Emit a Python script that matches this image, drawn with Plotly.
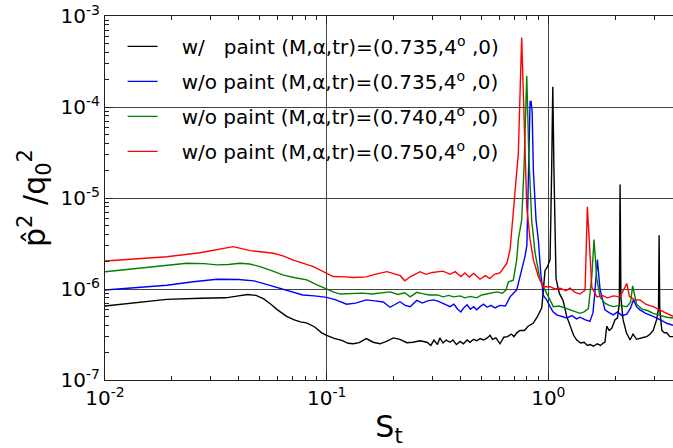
import math
import plotly.graph_objects as go

# ---------------- data ----------------
x_black = [0.010, 0.013, 0.019, 0.027, 0.035, 0.040, 0.044, 0.048, 0.052, 0.056, 0.060, 0.066,
           0.071, 0.076, 0.081, 0.088, 0.095, 0.100, 0.108, 0.117, 0.125, 0.132, 0.140, 0.151,
           0.162, 0.174, 0.186, 0.200, 0.214, 0.230, 0.245, 0.264, 0.283, 0.295, 0.305, 0.316,
           0.324, 0.335, 0.346, 0.360, 0.371, 0.385, 0.400, 0.414, 0.430, 0.443, 0.460, 0.475,
           0.492, 0.510, 0.530, 0.546, 0.560, 0.580, 0.605, 0.630, 0.655, 0.680, 0.700, 0.720,
           0.745, 0.780, 0.810, 0.853, 0.890, 0.934, 0.966, 0.990, 1.018, 1.035, 1.047, 1.060,
           1.083, 1.120, 1.165, 1.210, 1.253, 1.300, 1.343, 1.400, 1.450, 1.500, 1.542, 1.600,
           1.660, 1.720, 1.766, 1.800, 1.834, 1.880, 1.932, 2.000, 2.050, 2.090, 2.107, 2.125,
           2.173, 2.250, 2.337, 2.410, 2.500, 2.600, 2.700, 2.780, 2.880, 2.970, 3.080, 3.140,
           3.160, 3.180, 3.250, 3.340, 3.420, 3.530, 3.650]
y_black = [6.5e-7, 7.0e-7, 7.7e-7, 7.9e-7, 8.0e-7, 8.4e-7, 8.7e-7, 8.5e-7, 7.8e-7, 6.8e-7, 5.9e-7, 5.0e-7,
           4.6e-7, 4.35e-7, 4.25e-7, 3.85e-7, 3.3e-7, 3.1e-7, 2.87e-7, 2.73e-7, 2.53e-7, 2.5e-7, 2.57e-7, 2.85e-7,
           2.6e-7, 2.5e-7, 2.65e-7, 2.9e-7, 2.8e-7, 2.57e-7, 2.6e-7, 2.7e-7, 2.6e-7, 2.4e-7, 2.75e-7, 2.45e-7,
           2.9e-7, 2.55e-7, 2.75e-7, 2.6e-7, 2.75e-7, 2.45e-7, 2.65e-7, 2.5e-7, 2.75e-7, 2.6e-7, 2.8e-7, 2.7e-7,
           2.85e-7, 2.75e-7, 2.9e-7, 3.1e-7, 2.8e-7, 2.9e-7, 2.5e-7, 2.95e-7, 3.0e-7, 3.2e-7, 3.0e-7, 3.3e-7,
           3.5e-7, 3.5e-7, 3.9e-7, 4.2e-7, 4.9e-7, 6.2e-7, 1.6e-6, 1.75e-6, 2.1e-6, 2.0e-5, 1.67e-4, 2.0e-5,
           1.3e-6, 9.0e-7, 7.5e-7, 5.0e-7, 3.85e-7, 3.1e-7, 2.75e-7, 2.55e-7, 2.6e-7, 2.4e-7, 2.45e-7, 2.35e-7,
           2.5e-7, 2.4e-7, 2.55e-7, 2.6e-7, 3.9e-7, 3.5e-7, 3.7e-7, 4.6e-7, 4.8e-7, 7.0e-7, 1.41e-5, 8.0e-7,
           4.6e-7, 3.3e-7, 2.75e-7, 3.2e-7, 2.8e-7, 2.9e-7, 2.95e-7, 3.0e-7, 3.2e-7, 3.5e-7, 4.6e-7, 6.0e-7,
           3.9e-6, 6.0e-7, 3.5e-7, 3.3e-7, 3.3e-7, 3.0e-7, 3.0e-7]

x_blue = [0.010, 0.013, 0.019, 0.025, 0.032, 0.040, 0.047, 0.053, 0.060, 0.068, 0.078, 0.088,
          0.100, 0.110, 0.123, 0.135, 0.151, 0.165, 0.180, 0.193, 0.205, 0.214, 0.226, 0.238,
          0.255, 0.270, 0.285, 0.303, 0.320, 0.340, 0.360, 0.375, 0.390, 0.403, 0.415, 0.430,
          0.445, 0.460, 0.475, 0.492, 0.510, 0.530, 0.550, 0.575, 0.605, 0.640, 0.672, 0.720,
          0.758, 0.785, 0.800, 0.812, 0.827, 0.835, 0.845, 0.856, 0.880, 0.901, 0.924, 0.949,
          0.983, 1.018, 1.050, 1.090, 1.150, 1.210, 1.280, 1.340, 1.390, 1.460, 1.540, 1.590,
          1.620, 1.664, 1.710, 1.800, 1.880, 1.965, 2.050, 2.150, 2.260, 2.350, 2.420, 2.500,
          2.590, 2.750, 2.970, 3.150, 3.300, 3.420, 3.650]
y_blue = [9.75e-7, 1.03e-6, 1.1e-6, 1.2e-6, 1.28e-6, 1.27e-6, 1.23e-6, 1.13e-6, 1.04e-6, 9.4e-7, 8.6e-7, 8.4e-7,
          8.1e-7, 7.6e-7, 6.8e-7, 7.0e-7, 7.6e-7, 7.4e-7, 7.2e-7, 6.3e-7, 6.8e-7, 7.25e-7, 6.6e-7, 6.4e-7,
          7.5e-7, 7.0e-7, 7.4e-7, 7.6e-7, 7.3e-7, 6.8e-7, 6.4e-7, 6.8e-7, 6.0e-7, 5.6e-7, 6.2e-7, 6.7e-7,
          6.0e-7, 6.4e-7, 5.9e-7, 6.4e-7, 6.8e-7, 6.3e-7, 6.6e-7, 6.2e-7, 6.6e-7, 6.5e-7, 8.2e-7, 9.8e-7,
          1.6e-6, 2.3e-6, 3.0e-6, 1.5e-5, 1.15e-4, 1.15e-4, 9.0e-5, 2.0e-5, 5.7e-6, 3.5e-6, 1.5e-6, 8.5e-7,
          7.6e-7, 6.4e-7, 5.6e-7, 5.2e-7, 5.0e-7, 4.8e-7, 5.1e-7, 4.7e-7, 4.9e-7, 4.6e-7, 4.4e-7, 5.5e-7,
          9.0e-7, 2.1e-6, 1.0e-6, 5.9e-7, 5.5e-7, 5.2e-7, 5.6e-7, 5.1e-7, 5.3e-7, 6.2e-7, 7.6e-7, 6.4e-7,
          5.9e-7, 5.4e-7, 5.0e-7, 4.7e-7, 4.4e-7, 4.2e-7, 4.0e-7]

x_green = [0.010, 0.013, 0.019, 0.0234, 0.028, 0.032, 0.036, 0.0406, 0.045, 0.050, 0.056, 0.0638,
           0.072, 0.0813, 0.090, 0.100, 0.107, 0.115, 0.130, 0.145, 0.160, 0.175, 0.193, 0.210,
           0.225, 0.238, 0.255, 0.270, 0.290, 0.316, 0.335, 0.355, 0.374, 0.400, 0.420, 0.445,
           0.475, 0.500, 0.530, 0.560, 0.585, 0.620, 0.645, 0.660, 0.695, 0.720, 0.732, 0.758,
           0.777, 0.799, 0.816, 0.841, 0.871, 0.918, 0.983, 1.053, 1.120, 1.210, 1.300, 1.390,
           1.450, 1.515, 1.570, 1.607, 1.654, 1.710, 1.800, 1.880, 1.965, 2.100, 2.260, 2.350,
           2.400, 2.500, 2.650, 2.800, 2.970, 3.200, 3.420, 3.650]
y_green = [1.55e-6, 1.65e-6, 1.8e-6, 1.92e-6, 1.9e-6, 1.84e-6, 1.86e-6, 1.92e-6, 1.88e-6, 1.76e-6, 1.6e-6, 1.42e-6,
           1.33e-6, 1.26e-6, 1.12e-6, 1.0e-6, 9.3e-7, 8.8e-7, 8.9e-7, 9.0e-7, 8.8e-7, 9.1e-7, 9.3e-7, 8.7e-7,
           9.1e-7, 8.2e-7, 9.2e-7, 8.9e-7, 8.6e-7, 8.6e-7, 8.2e-7, 8.5e-7, 8.2e-7, 8.4e-7, 8.0e-7, 8.3e-7,
           8.0e-7, 8.6e-7, 8.8e-7, 9.1e-7, 9.3e-7, 9.0e-7, 9.8e-7, 1.2e-6, 1.25e-6, 2.1e-6, 3.5e-6, 5.7e-6,
           2.2e-5, 2.2e-4, 3.1e-5, 5.7e-6, 2.5e-6, 1.25e-6, 9.0e-7, 6.4e-7, 6.5e-7, 6.1e-7, 5.7e-7, 5.4e-7,
           5.6e-7, 6.1e-7, 1.36e-6, 3.5e-6, 1.3e-6, 8.2e-7, 7.0e-7, 6.6e-7, 6.4e-7, 6.6e-7, 6.4e-7, 7.2e-7,
           1.08e-6, 6.8e-7, 6.0e-7, 5.8e-7, 5.4e-7, 5.1e-7, 4.9e-7, 4.8e-7]

x_red = [0.010, 0.013, 0.019, 0.0268, 0.032, 0.0379, 0.0452, 0.050, 0.0575, 0.064, 0.0708, 0.0871,
         0.100, 0.107, 0.120, 0.132, 0.151, 0.165, 0.187, 0.200, 0.215, 0.225, 0.240, 0.264,
         0.280, 0.300, 0.335, 0.360, 0.380, 0.403, 0.420, 0.440, 0.460, 0.492, 0.520, 0.545,
         0.570, 0.605, 0.630, 0.650, 0.672, 0.695, 0.720, 0.732, 0.758, 0.777, 0.799, 0.827,
         0.856, 0.901, 0.949, 1.018, 1.070, 1.130, 1.200, 1.253, 1.320, 1.390, 1.464, 1.500,
         1.532, 1.570, 1.654, 1.750, 1.850, 1.965, 2.107, 2.260, 2.320, 2.450, 2.590, 2.750,
         2.970, 3.200, 3.420, 3.650]
y_red = [2.03e-6, 2.12e-6, 2.26e-6, 2.5e-6, 2.7e-6, 2.92e-6, 2.64e-6, 2.55e-6, 2.47e-6, 2.3e-6, 2.08e-6, 1.76e-6,
         1.49e-6, 1.37e-6, 1.36e-6, 1.34e-6, 1.36e-6, 1.45e-6, 1.55e-6, 1.47e-6, 1.4e-6, 1.23e-6, 1.38e-6, 1.55e-6,
         1.45e-6, 1.52e-6, 1.57e-6, 1.45e-6, 1.55e-6, 1.37e-6, 1.5e-6, 1.35e-6, 1.48e-6, 1.28e-6, 1.4e-6, 1.3e-6,
         1.45e-6, 1.5e-6, 1.75e-6, 1.92e-6, 2.7e-6, 6.8e-6, 2.2e-5, 3.1e-5, 5.8e-4, 7.2e-5, 8.0e-6, 3.5e-6,
         2.1e-6, 1.37e-6, 1.06e-6, 1.06e-6, 1.0e-6, 1.02e-6, 9.6e-7, 1.02e-6, 9.2e-7, 8.8e-7, 9.7e-7, 8.0e-6,
         3.5e-6, 1.05e-6, 8.2e-7, 8.5e-7, 8.0e-7, 8.4e-7, 8.2e-7, 1.15e-6, 8.3e-7, 7.6e-7, 7.6e-7, 6.8e-7,
         6.4e-7, 5.8e-7, 5.4e-7, 5.0e-7]

names = [
    "\u00a0\u00a0\u00a0w/\u00a0\u00a0\u00a0paint (M,\u03b1,tr)=(0.735,4<sup>o</sup> ,0)",
    "\u00a0\u00a0\u00a0w/o paint (M,\u03b1,tr)=(0.735,4<sup>o</sup> ,0)",
    "\u00a0\u00a0\u00a0w/o paint (M,\u03b1,tr)=(0.740,4<sup>o</sup> ,0)",
    "\u00a0\u00a0\u00a0w/o paint (M,\u03b1,tr)=(0.750,4<sup>o</sup> ,0)",
]
colors = ["#000000", "#0000ff", "#008000", "#ff0000"]

x_ticks = [0.01, 0.1, 1]
x_ticktext = ["10<sup>-2</sup>", "10<sup>-1</sup>", "10<sup>0</sup>"]
y_ticks = [1e-7, 1e-6, 1e-5, 1e-4, 1e-3]
y_ticktext = ["10<sup>-7</sup>", "10<sup>-6</sup>", "10<sup>-5</sup>", "10<sup>-4</sup>", "10<sup>-3</sup>"]

# ---------------- figure ----------------
fig = go.Figure()
for xs, ys, nm, col in zip([x_black, x_blue, x_green, x_red],
                           [y_black, y_blue, y_green, y_red], names, colors):
    fig.add_trace(go.Scatter(x=xs, y=ys, mode="lines", name=nm,
                             line=dict(color=col, width=1.4), legendgroup=nm))

axis_col = "#222222"
fig.update_xaxes(type="log", range=[-2, math.log10(3.65)],
                 tickvals=x_ticks, ticktext=x_ticktext,
                 ticks="inside", ticklen=8, tickcolor=axis_col,
                 showline=True, linecolor=axis_col, linewidth=1, mirror="ticks",
                 showgrid=True, gridcolor="#444444", gridwidth=1, zeroline=False,
                 minor=dict(ticks="inside", ticklen=4, dtick="D1", showgrid=False, tickcolor=axis_col),
                 title=dict(text="S<sub>t</sub>", font=dict(size=30), standoff=8))
fig.update_yaxes(type="log", range=[-7, -3],
                 tickvals=y_ticks, ticktext=y_ticktext,
                 ticks="inside", ticklen=8, tickcolor=axis_col,
                 showline=True, linecolor=axis_col, linewidth=1, mirror=False,
                 showgrid=True, gridcolor="#444444", gridwidth=1, zeroline=False,
                 minor=dict(ticks="inside", ticklen=4, dtick="D1", showgrid=False, tickcolor=axis_col),
                 title=dict(text="p\u0302<sup>2</sup> /q<sub>0</sub><sup>2</sup>", font=dict(size=30), standoff=6))

fig.update_layout(
    width=673, height=448,
    margin=dict(l=105, r=0, t=16, b=68),
    paper_bgcolor="white", plot_bgcolor="white",
    font=dict(family="DejaVu Sans", size=20, color="black"),
    showlegend=True,
    legend=dict(x=0.031, y=0.97, xanchor="left", yanchor="top",
                bgcolor="rgba(0,0,0,0)", font=dict(size=20), tracegroupgap=6,
                itemwidth=30),
)

fig.write_html("out.html")
